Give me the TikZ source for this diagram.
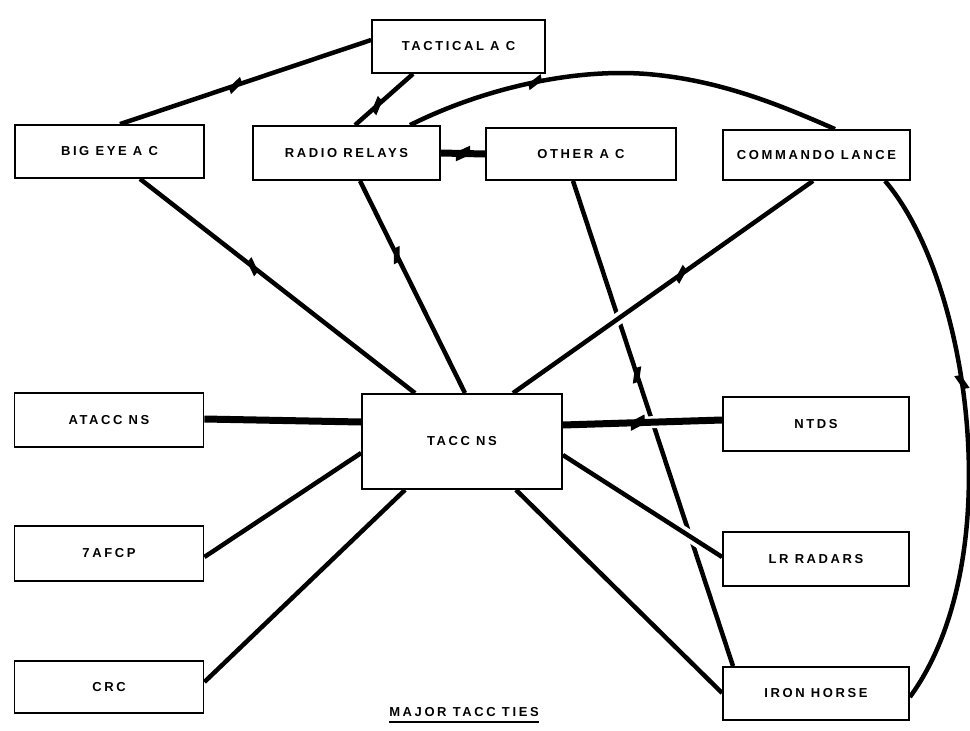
\documentclass[tikz,border=0pt]{standalone}
\usepackage{fontspec}
\setmainfont{Liberation Sans}
\usetikzlibrary{calc,decorations.markings}
\pgfdeclarelayer{edges}
\pgfsetlayers{edges,main}
\newcommand{\boxfont}{\bfseries\fontsize{13}{15}\selectfont\addfontfeature{LetterSpace=20}}
\newcommand{\boltshape}[2]{% #1 = half line width, #2 = side (1 or -1)
  \begin{scope}[yscale=#2]
  \fill (-3pt,#1-0.4pt) -- (7pt,#1+4.5pt) -- (7pt,#1-0.4pt) -- cycle;
  \fill (3pt,-#1+0.4pt) -- (-7pt,-#1-4.5pt) -- (-7pt,-#1+0.4pt) -- cycle;
  \end{scope}}
\begin{document}
\begin{tikzpicture}[x=1pt,y=-1pt,
  box/.style={draw, line width=1.8pt, fill=white, inner sep=0pt, font=\boxfont},
  link/.style={line width=4.5pt},
  heavy/.style={line width=7pt},
  halo/.style={preaction={draw=white, line width=12pt}},
  bolt/.style={postaction={decorate,decoration={markings,mark=at position #1 with {\boltshape{2.25pt}{1}}}}},
  boltm/.style={postaction={decorate,decoration={markings,mark=at position #1 with {\boltshape{2.25pt}{-1}}}}},
  hbolt/.style={postaction={decorate,decoration={markings,mark=at position #1 with {\boltshape{3.5pt}{1}}}}},
  bolt/.default=0.5, boltm/.default=0.5, hbolt/.default=0.5]
\useasboundingbox (0,0) rectangle (970,731);

\node[box, minimum width=173pt, minimum height=53pt] (tac) at (458.5,46.5) {TACTICAL A C};
\node[box, minimum width=189pt, minimum height=53pt] (big) at (109.5,151.5) {BIG EYE A C};
\node[box, minimum width=187pt, minimum height=54pt] (rr) at (346.5,153) {RADIO RELAYS};
\node[box, minimum width=190pt, minimum height=52pt] (oth) at (581,154) {OTHER A C};
\node[box, minimum width=187pt, minimum height=50pt] (cl) at (816.5,155) {COMMANDO LANCE};
\node[box, minimum width=189pt, minimum height=54pt] (atacc) at (109,420) {ATACC NS};
\node[box, minimum width=189pt, minimum height=55pt] (tafcp) at (109,553.5) {7AFCP};
\node[box, minimum width=189pt, minimum height=52pt] (crc) at (109,687) {CRC};
\node[box, minimum width=200pt, minimum height=95pt] (tacc) at (462,441.5) {TACC NS};
\node[box, minimum width=186pt, minimum height=54pt] (ntds) at (816,424) {NTDS};
\node[box, minimum width=186pt, minimum height=54pt] (lr) at (816,559) {LR RADARS};
\node[box, minimum width=186pt, minimum height=53pt] (iron) at (816,693.5) {IRON HORSE};
\node[font=\boxfont, inner sep=0pt] (cap) at (464,712) {MAJOR TACC TIES};
\draw[line width=1.6pt] ([yshift=-5pt]cap.south west) -- ([yshift=-5pt]cap.south east);

\begin{pgfonlayer}{edges}
\draw[link, bolt=0.46] ([xshift=10.5pt]big.north) -- ([yshift=6.5pt]tac.west);
\draw[link, bolt=0.62] ([xshift=-45.5pt]tac.south) -- ([xshift=8.5pt]rr.north);
\draw[heavy, hbolt=0.5] (rr.east) -- (oth.west);
\draw[link, bolt=0.3] ([xshift=63.5pt]rr.north) .. controls (480,90) and (570,68) .. (647,74) .. controls (720,80) and (780,105) .. ([xshift=18.5pt]cl.north);
\draw[link, boltm=0.41] ([xshift=30.5pt]big.south) -- ([xshift=-47pt]tacc.north);
\draw[link, boltm=0.35] ([xshift=13.5pt]rr.south) -- ([xshift=3pt]tacc.north);
\draw[link, boltm=0.40] ([xshift=-8pt]oth.south) -- ([xshift=-83pt]iron.north);
\draw[link, halo, bolt=0.44] ([xshift=-3.5pt]cl.south) -- ([xshift=51pt]tacc.north);
\draw[link, bolt=0.4] ([xshift=68.5pt]cl.south) .. controls (970,280) and (1010,560) .. ([yshift=-3.5pt]iron.east);
\draw[heavy] ([yshift=1pt]atacc.east) -- ([yshift=19.5pt]tacc.west);
\draw[link] ([yshift=-3.5pt]tafcp.east) -- ([yshift=-11.5pt]tacc.west);
\draw[link] ([yshift=5pt]crc.east) -- ([xshift=-57pt]tacc.south);
\draw[heavy, halo, hbolt=0.47] ([yshift=16.5pt]tacc.east) -- ([yshift=4pt]ntds.west);
\draw[link, halo] ([yshift=-13.5pt]tacc.east) -- ([yshift=2pt]lr.west);
\draw[link] ([xshift=54pt]tacc.south) -- ([yshift=0.5pt]iron.west);
\end{pgfonlayer}
\end{tikzpicture}
\end{document}
